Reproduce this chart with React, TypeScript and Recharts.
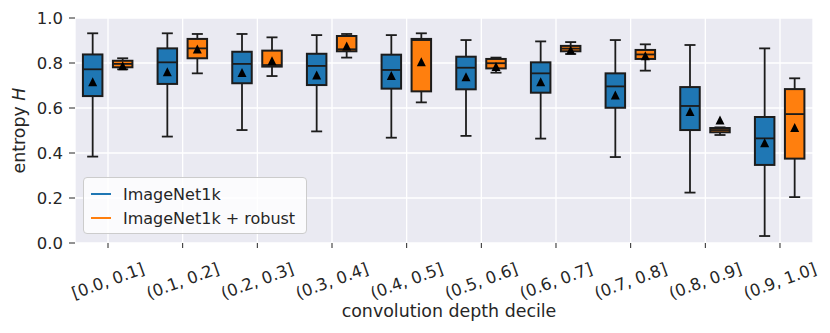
import React from 'react';
import { ComposedChart, Bar, XAxis, YAxis, CartesianGrid } from 'recharts';

const categories = ['[0.0, 0.1]', '(0.1, 0.2]', '(0.2, 0.3]', '(0.3, 0.4]', '(0.4, 0.5]', '(0.5, 0.6]', '(0.6, 0.7]', '(0.7, 0.8]', '(0.8, 0.9]', '(0.9, 1.0]'];
const yTicks = [0, 0.2, 0.4, 0.6, 0.8, 1.0];

// ImageNet1k
const baseLo = [0.384, 0.473, 0.502, 0.496, 0.468, 0.476, 0.464, 0.382, 0.224, 0.031];
const baseQ1 = [0.653, 0.707, 0.710, 0.702, 0.686, 0.683, 0.668, 0.601, 0.502, 0.347];
const baseMed = [0.772, 0.803, 0.796, 0.787, 0.769, 0.779, 0.754, 0.696, 0.609, 0.465];
const baseQ3 = [0.838, 0.865, 0.850, 0.841, 0.837, 0.828, 0.803, 0.754, 0.693, 0.560];
const baseHi = [0.932, 0.932, 0.929, 0.924, 0.924, 0.902, 0.896, 0.902, 0.880, 0.865];
const baseMean = [0.717, 0.761, 0.758, 0.747, 0.744, 0.739, 0.717, 0.658, 0.584, 0.446];

// ImageNet1k + robust
const robLo = [0.772, 0.754, 0.742, 0.824, 0.625, 0.757, 0.840, 0.766, 0.480, 0.204];
const robQ1 = [0.781, 0.821, 0.784, 0.852, 0.674, 0.776, 0.852, 0.818, 0.492, 0.375];
const robMed = [0.796, 0.865, 0.791, 0.861, 0.902, 0.799, 0.864, 0.838, 0.502, 0.573];
const robQ3 = [0.810, 0.907, 0.855, 0.920, 0.907, 0.818, 0.876, 0.858, 0.511, 0.684];
const robHi = [0.821, 0.929, 0.914, 0.929, 0.932, 0.824, 0.893, 0.883, 0.514, 0.732];
const robMean = [0.788, 0.862, 0.810, 0.876, 0.806, 0.784, 0.858, 0.832, 0.547, 0.513];

const BLUE = '#1f77b4';
const ORANGE = '#ff7f0e';
const EDGE = '#1c1c1c';
const TEXT = '#262626';
const FONT = '"DejaVu Sans", sans-serif';

const data = categories.map((c, i) => ({
  x: i,
  label: c,
  base: [baseLo[i], baseHi[i]],
  rob: [robLo[i], robHi[i]],
  bLo: baseLo[i], bQ1: baseQ1[i], bMed: baseMed[i], bQ3: baseQ3[i], bHi: baseHi[i], bMean: baseMean[i],
  rLo: robLo[i], rQ1: robQ1[i], rMed: robMed[i], rQ3: robQ3[i], rHi: robHi[i], rMean: robMean[i],
}));

function makeBoxShape(p: string, color: string) {
  return (props: any) => {
    const { x, y, width, height, index } = props;
    const d: any = props.payload && props.payload[p + 'Lo'] !== undefined ? props.payload : data[index];
    const top = Math.min(y, y + height);
    const h = Math.abs(height);
    const L = d[p + 'Lo'];
    const H = d[p + 'Hi'];
    const toY = (v: number) => top + (h * (H - v)) / (H - L);
    const cx = x + width / 2;
    const bw = width * 0.65;
    const cw = 11;
    const yq3 = toY(d[p + 'Q3']);
    const yq1 = toY(d[p + 'Q1']);
    const ymed = toY(d[p + 'Med']);
    const ymean = toY(d[p + 'Mean']);
    const t = 4.5;
    return (
      <g>
        <line x1={cx} x2={cx} y1={toY(H)} y2={yq3} stroke={EDGE} strokeWidth={1.8} />
        <line x1={cx} x2={cx} y1={yq1} y2={toY(L)} stroke={EDGE} strokeWidth={1.8} />
        <line x1={cx - cw / 2} x2={cx + cw / 2} y1={toY(H)} y2={toY(H)} stroke={EDGE} strokeWidth={1.8} />
        <line x1={cx - cw / 2} x2={cx + cw / 2} y1={toY(L)} y2={toY(L)} stroke={EDGE} strokeWidth={1.8} />
        <rect x={cx - bw / 2} y={yq3} width={bw} height={Math.max(yq1 - yq3, 0.5)} fill={color} stroke={EDGE} strokeWidth={2} />
        <line x1={cx - bw / 2} x2={cx + bw / 2} y1={ymed} y2={ymed} stroke={EDGE} strokeWidth={1.8} />
        <path d={`M${cx},${ymean - t} L${cx + t},${ymean + t} L${cx - t},${ymean + t} Z`} fill="#000" />
      </g>
    );
  };
}

const XTick = (props: any) => {
  const { x, y, payload } = props;
  const label = categories[payload.value] ?? '';
  const cy = y + 33;
  return (
    <text x={x} y={cy} textAnchor="middle" dominantBaseline="central" fontSize={16.5} fontFamily={FONT} fill={TEXT} transform={`rotate(-20, ${x}, ${cy})`}>
      {label}
    </text>
  );
};

const XLabel = (props: any) => {
  const vb = props.viewBox || { x: 75, y: 243, width: 738, height: 90 };
  return (
    <text x={vb.x + vb.width / 2 + 5} y={vb.y + 74} textAnchor="middle" fontSize={17.4} fontFamily={FONT} fill={TEXT}>
      convolution depth decile
    </text>
  );
};

const YLabel = (props: any) => {
  const vb = props.viewBox || { x: 0, y: 18, width: 75, height: 225 };
  const lx = vb.x + 25;
  const ly = vb.y + vb.height / 2;
  return (
    <text x={lx} y={ly} textAnchor="middle" fontSize={17.4} fontFamily={FONT} fill={TEXT} transform={`rotate(-90, ${lx}, ${ly})`}>
      entropy <tspan fontStyle="italic">H</tspan>
    </text>
  );
};

const legendItems = [
  { name: 'ImageNet1k', color: BLUE },
  { name: 'ImageNet1k + robust', color: ORANGE },
];

export default function App() {
  return (
    <div style={{ position: 'absolute', left: 0, top: 0, width: 830, height: 333, background: '#fff' }}>
      <ComposedChart
        width={830}
        height={333}
        data={data}
        margin={{ top: 18, right: 17, bottom: 0, left: 0 }}
        barGap={0}
        barCategoryGap={0}
      >
        <CartesianGrid fill="#eaeaf2" fillOpacity={1} stroke="#ffffff" strokeWidth={1.3} vertical horizontal />
        <XAxis
          dataKey="x"
          type="number"
          domain={[-0.442, 9.442]}
          ticks={[0, 1, 2, 3, 4, 5, 6, 7, 8, 9]}
          interval={0}
          axisLine={false}
          tickLine={{ stroke: TEXT, strokeWidth: 1 }}
          tickSize={5}
          tickMargin={0}
          height={90}
          tick={<XTick />}
          label={<XLabel />}
        />
        <YAxis
          type="number"
          domain={[0, 1]}
          ticks={yTicks}
          tickFormatter={(v: number) => v.toFixed(1)}
          width={75}
          axisLine={false}
          tickLine={{ stroke: TEXT, strokeWidth: 1 }}
          tickSize={6}
          tickMargin={6}
          tick={{ fontSize: 16.5, fontFamily: FONT, fill: TEXT }}
          label={<YLabel />}
        />
        <Bar dataKey="base" name="ImageNet1k" fill={BLUE} barSize={30} isAnimationActive={false} shape={makeBoxShape('b', BLUE)} />
        <Bar dataKey="rob" name="ImageNet1k + robust" fill={ORANGE} barSize={30} isAnimationActive={false} shape={makeBoxShape('r', ORANGE)} />
      </ComposedChart>
      <div
        style={{
          position: 'absolute',
          left: 83,
          top: 177,
          width: 222,
          height: 55,
          background: 'rgba(255,255,255,0.8)',
          border: '1px solid #cccccc',
          borderRadius: 4,
          fontFamily: FONT,
          fontSize: 16,
          color: TEXT,
          boxSizing: 'content-box',
        }}
      >
        {legendItems.map((it, k) => (
          <div key={it.name} style={{ position: 'absolute', left: 0, top: 4 + k * 24, height: 24, display: 'flex', alignItems: 'center', whiteSpace: 'nowrap' }}>
            <span style={{ display: 'inline-block', width: 20, height: 2, background: it.color, marginLeft: 7, marginRight: 12 }} />
            <span>{it.name}</span>
          </div>
        ))}
      </div>
    </div>
  );
}
